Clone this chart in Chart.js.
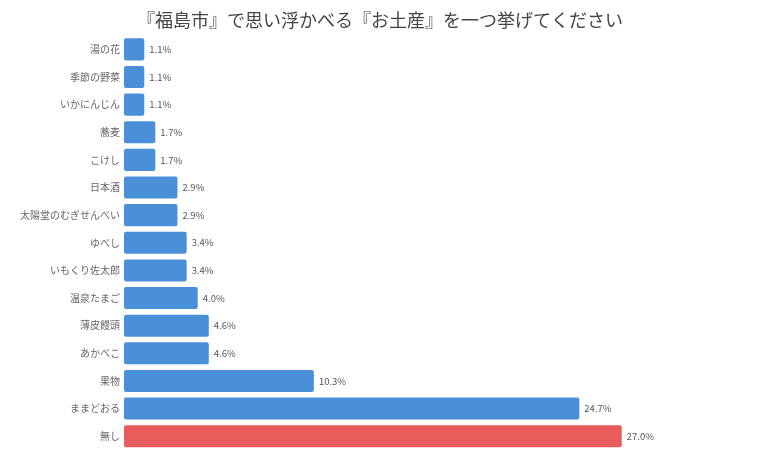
<!DOCTYPE html>
<html>
<head>
<meta charset="utf-8">
<script src="https://cdn.jsdelivr.net/npm/chart.js@4"></script>
<style>
  html, body { margin: 0; padding: 0; background: #fff; }
  #wrap { width: 760px; height: 460px; position: relative; }
</style>
</head>
<body>
<div id="wrap"><canvas id="chart"></canvas></div>
<script>
const categories = ['湯の花', '季節の野菜', 'いかにんじん', '蕎麦', 'こけし', '日本酒', '太陽堂のむぎせんべい', 'ゆべし', 'いもくり佐太郎', '温泉たまご', '薄皮饅頭', 'あかべこ', '果物', 'ままどおる', '無し'];
const values = [1.1, 1.1, 1.1, 1.7, 1.7, 2.9, 2.9, 3.4, 3.4, 4.0, 4.6, 4.6, 10.3, 24.7, 27.0];
const highlight = '無し';

const blue = '#4a90d9';
const red = '#e85c5c';
const jpFont = '"Noto Sans CJK JP", "Noto Sans", sans-serif';

// percentage text to the right of each bar
const valueLabels = {
  id: 'valueLabels',
  afterDatasetsDraw(chart) {
    const ctx = chart.ctx;
    const meta = chart.getDatasetMeta(0);
    ctx.save();
    ctx.font = '9.5px ' + jpFont;
    ctx.fillStyle = '#555';
    ctx.textBaseline = 'middle';
    ctx.textAlign = 'left';
    meta.data.forEach((bar, i) => {
      ctx.fillText(values[i].toFixed(1) + '%', bar.x + 5, bar.y);
    });
    ctx.restore();
  }
};

new Chart(document.getElementById('chart'), {
  type: 'bar',
  data: {
    labels: categories,
    datasets: [{
      data: values,
      backgroundColor: categories.map(c => c === highlight ? red : blue),
      borderRadius: 2,
      borderSkipped: false,
      barPercentage: 0.8,
      categoryPercentage: 1.0
    }]
  },
  options: {
    indexAxis: 'y',
    responsive: true,
    maintainAspectRatio: false,
    animation: false,
    layout: { padding: { left: 0, right: 0, top: 0, bottom: 7 } },
    scales: {
      x: { display: false, min: 0, max: 34.5 },
      y: {
        grid: { display: false, drawTicks: false },
        border: { display: false },
        afterFit: (s) => { s.width = 124; },
        ticks: {
          color: '#666',
          padding: 4,
          font: { size: 10, family: jpFont }
        }
      }
    },
    plugins: {
      legend: { display: false },
      tooltip: { enabled: false },
      title: {
        display: true,
        text: '『福島市』で思い浮かべる『お土産』を一つ挙げてください',
        color: '#444',
        font: { size: 18, weight: 'normal', family: jpFont },
        padding: { top: 9, bottom: 5 }
      }
    }
  },
  plugins: [valueLabels]
});
</script>
</body>
</html>
